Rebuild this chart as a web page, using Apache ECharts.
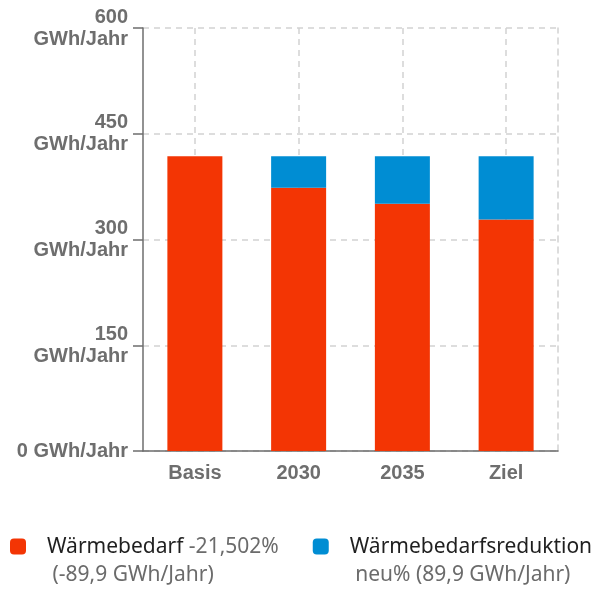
<!DOCTYPE html>
<html>
<head>
<meta charset="utf-8">
<script src="https://cdn.jsdelivr.net/npm/echarts@6/dist/echarts.min.js"></script>
<style>
  html, body { margin: 0; padding: 0; background: #fff; }
  #chart { width: 601px; height: 592px; }
</style>
</head>
<body>
<div id="chart"></div>
<script>
// Heat demand per scenario (GWh/Jahr)
const categories = ['Basis', '2030', '2035', 'Ziel'];
const demand = [418.1, 373.5, 350.8, 328.2];
const reduction = [0, 44.6, 67.3, 89.9];
const seriesNames = ['Wärmebedarf', 'Wärmebedarfsreduktion'];
const legendNotes = {
  'Wärmebedarf': ['-21,502%', '(-89,9 GWh/Jahr)'],
  'Wärmebedarfsreduktion': ['', 'neu% (89,9 GWh/Jahr)']
};
const unit = 'GWh/Jahr';

const RED = '#F33504';
const BLUE = '#008DD3';
const AXIS_GREY = '#6e6e6e';
const GRID_GREY = '#d2d2d2';
const axisFont = '"Liberation Sans", Arial, sans-serif';
const legendFont = '"Noto Sans", "Open Sans", sans-serif';

const chart = echarts.init(document.getElementById('chart'), null, { renderer: 'canvas' });

chart.setOption({
  animation: false,
  grid: { left: 143, right: 43, top: 28, bottom: 141, containLabel: false },
  legend: {
    data: seriesNames,
    left: 5,
    top: 532,
    itemWidth: 16,
    itemHeight: 16,
    itemGap: 34,
    icon: 'roundRect',
    formatter: function (name) {
      const n = legendNotes[name];
      const first = n[0] ? '{n|' + name + '} {p|' + n[0] + '}' : '{n|' + name + '}';
      return first + '\n{p| ' + n[1] + '}';
    },
    textStyle: {
      fontFamily: legendFont,
      fontSize: 21,
      padding: [30, 0, 0, 16],
      rich: {
        n: { color: '#1f1f1f', fontSize: 21, lineHeight: 28, fontFamily: legendFont },
        p: { color: '#6b6b6b', fontSize: 21, lineHeight: 28, fontFamily: legendFont }
      }
    }
  },
  xAxis: {
    type: 'category',
    data: categories,
    axisLine: { lineStyle: { color: AXIS_GREY, width: 1.5 } },
    axisTick: { alignWithLabel: true, length: 10, lineStyle: { color: AXIS_GREY, width: 1.5 } },
    axisLabel: {
      margin: 12,
      color: AXIS_GREY,
      fontFamily: axisFont,
      fontWeight: 'bold',
      fontSize: 20
    },
    splitLine: {
      show: true,
      alignWithLabel: true,
      lineStyle: { color: GRID_GREY, width: 1.5, type: [6, 5] }
    }
  },
  yAxis: [
    {
      type: 'value',
      min: 0,
      max: 600,
      interval: 150,
      axisLine: { show: true, lineStyle: { color: AXIS_GREY, width: 1.5 } },
      axisTick: { show: true, length: 10, lineStyle: { color: AXIS_GREY, width: 1.5 } },
      axisLabel: {
        margin: 15,
        color: AXIS_GREY,
        fontFamily: axisFont,
        fontWeight: 'bold',
        fontSize: 20,
        lineHeight: 22,
        align: 'right',
        // the zero label fits on one line, the others wrap the unit below
        formatter: function (v) { return v === 0 ? v + ' ' + unit : v + '\n' + unit; }
      },
      splitLine: { show: true, lineStyle: { color: GRID_GREY, width: 1.5, type: [6, 5] } }
    },
    {
      // dashed frame on the right-hand side of the plot
      type: 'value',
      position: 'right',
      min: 0,
      max: 600,
      interval: 150,
      axisLine: { show: true, lineStyle: { color: GRID_GREY, width: 1.5, type: [6, 5] } },
      axisTick: { show: false },
      axisLabel: { show: false },
      splitLine: { show: false }
    }
  ],
  series: [
    {
      name: seriesNames[0],
      type: 'bar',
      stack: 'total',
      barWidth: 55,
      data: demand,
      itemStyle: { color: RED }
    },
    {
      name: seriesNames[1],
      type: 'bar',
      stack: 'total',
      barWidth: 55,
      data: reduction,
      itemStyle: { color: BLUE }
    }
  ]
});
</script>
</body>
</html>
